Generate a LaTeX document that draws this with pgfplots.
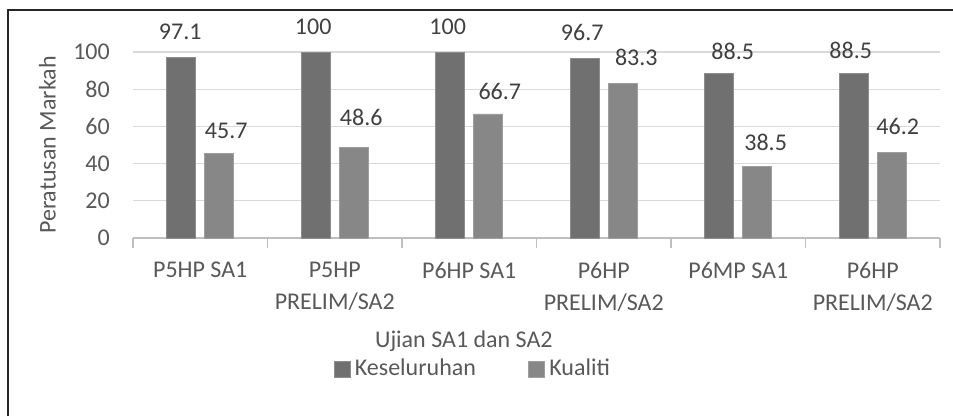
\documentclass[border=0pt]{standalone}
\usepackage{fontspec}
\setmainfont{Carlito}
\usepackage{pgfplots}
\pgfplotsset{compat=1.18}
\definecolor{darkbar}{HTML}{707070}
\definecolor{lightbar}{HTML}{878787}
\definecolor{txt}{HTML}{595959}
\definecolor{vtxt}{HTML}{404040}
\definecolor{gridc}{HTML}{D9D9D9}
\definecolor{axisc}{HTML}{BFBFBF}
\begin{document}
\fontsize{24}{32.3}\selectfont
\begin{tikzpicture}[x=1pt,y=1pt]
\path[use as bounding box] (0,0) rectangle (953,-416);
\fill[white] (0,0) rectangle (953,-416);
\draw[line width=2pt, black!85] (8,-416) -- (8,-10) -- (953,-10);
\begin{axis}[
  at={(133pt,-238pt)}, anchor=south west,
  scale only axis, width=807pt, height=186pt,
  xmin=0, xmax=6, ymin=0, ymax=100,
  clip=false,
  /pgf/number format/assume math mode=true,
  font=\fontsize{24}{32.3}\selectfont,
  axis x line*=bottom, axis y line*=left,
  y axis line style={draw=none},
  x axis line style={draw=axisc, line width=1.2pt},
  ytick={0,20,...,100},
  ymajorgrids, grid style={draw=gridc, line width=1.3pt},
  major tick length=0pt,
  yticklabel style={text=txt, xshift=-15pt},
  xtick={0.5,1.5,...,5.5},
  xticklabels={P5HP SA1, P5HP\\PRELIM/SA2, P6HP SA1, P6HP\\PRELIM/SA2, P6MP SA1, P6HP\\PRELIM/SA2},
  xticklabel style={text=txt, align=center, anchor=north, yshift=-16pt},
  extra x ticks={0,1,2,3,4,5,6},
  extra x tick labels={},
  extra x tick style={major tick length=10pt, tick align=outside, tick style={draw=axisc, line width=1.2pt}, grid=none},
  ylabel={Peratusan Markah},
  ylabel style={at={(axis description cs:-0.106,0.5)}, anchor=center, text=txt},
  xlabel={Ujian SA1 dan SA2},
  xlabel style={at={(axis description cs:0.410,-0.555)}, anchor=center, text=txt},
  legend columns=2,
  legend style={at={(axis description cs:0.421,-0.705)}, anchor=center, draw=none, fill=none,
    text=txt, font=\fontsize{24}{32.3}\selectfont,
    /tikz/every even column/.append style={column sep=50pt}},
  legend image code/.code={\draw[#1, line width=0.6pt] (0pt,-8pt) rectangle (16pt,8pt); \path[draw=none, fill=none] (0pt,0pt) -- (19pt,0pt);},
]
\addplot[ybar, bar width=29pt, bar shift=-19pt, fill=darkbar, draw=darkbar!80!white, line width=0.6pt]
  coordinates {(0.5,97.1) (1.5,100) (2.5,100) (3.5,96.7) (4.5,88.5) (5.5,88.5)};
\addlegendentry{Keseluruhan}
\addplot[ybar, bar width=29pt, bar shift=19pt, fill=lightbar, draw=lightbar!80!white, line width=0.6pt]
  coordinates {(0.5,45.7) (1.5,48.6) (2.5,66.7) (3.5,83.3) (4.5,38.5) (5.5,46.2)};
\addlegendentry{Kualiti}
% value labels
\addplot[draw=none, mark=none, forget plot, point meta=explicit symbolic,
  nodes near coords, nodes near coords style={anchor=center, text=vtxt, font=\fontsize{24}{32.3}\selectfont}]
  coordinates {(0.351,111.0) [97.1] (1.340,113.7) [100] (2.340,113.7) [100]
               (3.340,110.5) [96.7] (4.459,100.5) [88.5] (5.336,101.1) [88.5]};
\addplot[draw=none, mark=none, forget plot, point meta=explicit symbolic,
  nodes near coords, nodes near coords style={anchor=center, text=vtxt, font=\fontsize{24}{32.3}\selectfont}]
  coordinates {(0.693,57.5) [45.7] (1.697,65.1) [48.6] (2.727,79.0) [66.7]
               (3.742,97.0) [83.3] (4.704,51.6) [38.5] (5.686,60.2) [46.2]};
\end{axis}
\end{tikzpicture}
\end{document}
